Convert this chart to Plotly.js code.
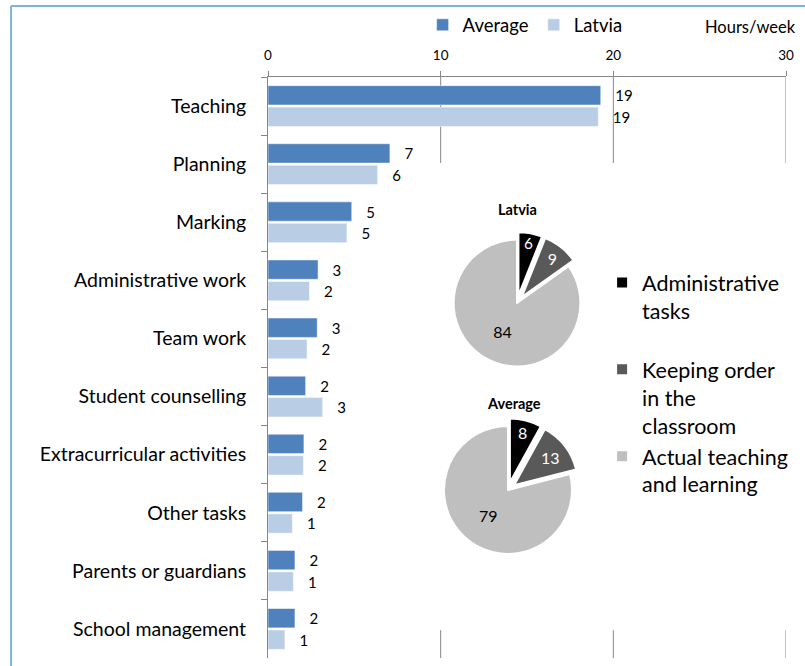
<!DOCTYPE html>
<html>
<head>
<meta charset="utf-8">
<script src="https://cdn.plot.ly/plotly-3.0.1.min.js"></script>
<style>html,body{margin:0;padding:0;background:#fff}#chart{width:805px;height:666px}</style>
</head>
<body>
<div id="chart"></div>
<script>
// Bar chart data (hours/week)
const categories = ["Teaching","Planning","Marking","Administrative work","Team work","Student counselling","Extracurricular activities","Other tasks","Parents or guardians","School management"];
const averageHours = [19.27, 7.06, 4.85, 2.9, 2.85, 2.18, 2.08, 2.0, 1.56, 1.56];
const latviaHours  = [19.13, 6.35, 4.57, 2.4, 2.26, 3.17, 2.05, 1.41, 1.47, 0.98];
const xTicks = [0, 10, 20, 30];

// Pie data (% of lesson time)
const pieLabels = ["Administrative<br>tasks<br> ", "Keeping order<br>in the<br>classroom", "Actual teaching<br>and learning"];
const latviaShares = [6, 9, 84];
const averageShares = [8, 13, 79];

const FONT = "Lato, 'Open Sans', sans-serif";
const barFont = {family: FONT, size: 15, color: "#000"};
const pieColors = ["#000000", "#595959", "#BFBFBF"];
const pieTextColors = ["#ffffff", "#ffffff", "#000000"];

const traces = [
  {type: "bar", orientation: "h", name: "Average", y: categories, x: averageHours,
   marker: {color: "#4F81BD", line: {color: "#ffffff", width: 0.5}},
   texttemplate: "\u00a0\u00a0\u00a0%{x:.0f}", textposition: "outside", cliponaxis: false,
   textfont: barFont, hoverinfo: "x+name", legend: "legend"},
  {type: "bar", orientation: "h", name: "Latvia", y: categories, x: latviaHours,
   marker: {color: "#B9CDE5", line: {color: "#ffffff", width: 0.5}},
   texttemplate: "\u00a0\u00a0\u00a0%{x:.0f}", textposition: "outside", cliponaxis: false,
   textfont: barFont, hoverinfo: "x+name", legend: "legend"},
  {type: "pie", labels: pieLabels, values: latviaShares, sort: false, direction: "clockwise", rotation: 0,
   pull: [0.12, 0.12, 0], marker: {colors: pieColors, line: {color: "#ffffff", width: 2}},
   textinfo: "value", textposition: "inside", insidetextorientation: "horizontal",
   textfont: {family: FONT, size: 16, color: pieTextColors},
   domain: {x: [0.3436, 0.6178], y: [0.4888, 0.7332]}, legend: "legend2", showlegend: true},
  {type: "pie", labels: pieLabels, values: averageShares, sort: false, direction: "clockwise", rotation: 0,
   pull: [0.12, 0.12, 0], marker: {colors: pieColors, line: {color: "#ffffff", width: 2}},
   textinfo: "value", textposition: "inside", insidetextorientation: "horizontal",
   textfont: {family: FONT, size: 16, color: pieTextColors},
   domain: {x: [0.3249, 0.6017], y: [0.1658, 0.4126]}, legend: "legend2", showlegend: false}
];

const gridShapes = [];
[10, 20, 30].forEach(v => {
  gridShapes.push({type: "line", xref: "x", yref: "paper", x0: v, x1: v, y0: 0.852, y1: 1, line: {color: "#868686", width: 1}, layer: "below"});
  gridShapes.push({type: "line", xref: "x", yref: "paper", x0: v, x1: v, y0: 0, y1: 0.048, line: {color: "#868686", width: 1}, layer: "below"});
});
// frame
gridShapes.push({type: "line", xref: "paper", yref: "paper", x0: -0.496, x1: 1.1, y0: 1.122, y1: 1.122, line: {color: "#7FB2E0", width: 2}});
gridShapes.push({type: "line", xref: "paper", yref: "paper", x0: -0.496, x1: -0.496, y0: 1.122, y1: -0.1, line: {color: "#7FB2E0", width: 2}});

const layout = {
  width: 805, height: 666,
  margin: {l: 268, r: 19, t: 77, b: 8, autoexpand: false},
  paper_bgcolor: "#ffffff", plot_bgcolor: "rgba(0,0,0,0)",
  font: {family: FONT, color: "#000"},
  barmode: "group", bargap: 0.26, bargroupgap: 0.1,
  showlegend: true,
  xaxis: {side: "top", range: [0, 30], tickvals: xTicks, ticktext: xTicks.map(String),
    ticks: "outside", ticklen: 5, tickcolor: "#868686", showline: true, linecolor: "#868686", linewidth: 1,
    showgrid: false, zeroline: false, tickfont: {family: FONT, size: 13.5, color: "#000"}, ticklabelstandoff: 6, fixedrange: true},
  yaxis: {type: "category", autorange: "reversed", tickson: "boundaries", ticks: "outside", ticklen: 6,
    tickcolor: "#868686", showline: true, linecolor: "#868686", linewidth: 1, showgrid: false, zeroline: false,
    tickfont: {family: FONT, size: 19.5, color: "#000"}, ticklabelstandoff: 17, fixedrange: true},
  legend: {orientation: "h", x: 0.2985, y: 1.089, xanchor: "left", yanchor: "middle",
    font: {family: FONT, size: 18.5, color: "#000"}, bgcolor: "rgba(0,0,0,0)"},
  legend2: {x: 0.645, y: 0.6816, xanchor: "left", yanchor: "top", valign: "top",
    font: {family: FONT, size: 21.5, color: "#000"}, bgcolor: "rgba(0,0,0,0)"},
  annotations: [
    {text: "Hours/week", xref: "paper", yref: "paper", x: 1.023, y: 1.086, xanchor: "right", yanchor: "middle", showarrow: false, font: {family: FONT, size: 16.5, color: "#000"}},
    {text: "<b>Latvia</b>", xref: "paper", yref: "paper", x: (517-268)/518, y: 1-(209-77)/581, xanchor: "center", yanchor: "middle", showarrow: false, font: {family: FONT, size: 14.5, color: "#000"}},
    {text: "<b>Average</b>", xref: "paper", yref: "paper", x: (514-268)/518, y: 1-(403-77)/581, xanchor: "center", yanchor: "middle", showarrow: false, font: {family: FONT, size: 14.5, color: "#000"}}
  ],
  shapes: gridShapes
};

Plotly.newPlot("chart", traces, layout, {displayModeBar: false, responsive: false});
</script>
</body>
</html>
